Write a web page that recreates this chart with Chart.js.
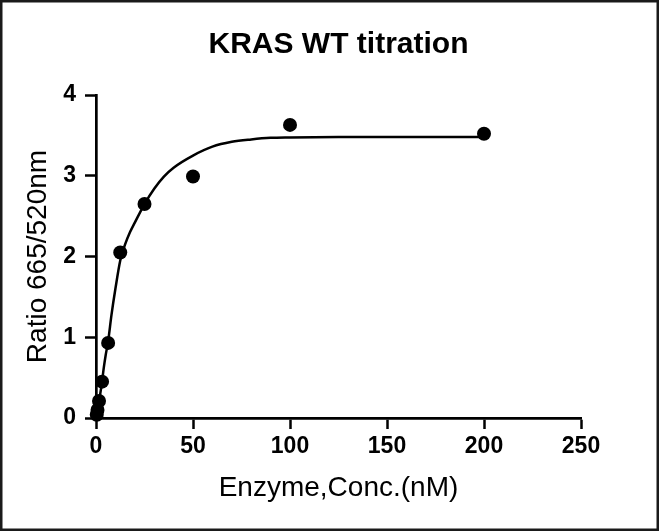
<!DOCTYPE html>
<html>
<head>
<meta charset="utf-8">
<script src="https://cdn.jsdelivr.net/npm/chart.js@4.4.0/dist/chart.umd.min.js"></script>
<style>
  html, body { margin: 0; padding: 0; background: #fff; }
  #wrap { position: relative; width: 659px; height: 531px; }
</style>
</head>
<body>
<div id="wrap"><canvas id="c" width="659" height="531"></canvas></div>
<script>
// ---- data ----
const TITLE = 'KRAS WT titration';
const X_TITLE = 'Enzyme,Conc.(nM)';
const Y_TITLE = 'Ratio 665/520nm';

// measured points
const concentrations = [0.39, 0.78, 1.56, 3.125, 6.25, 12.5, 25, 50, 100, 200];
const ratios         = [0.04, 0.10, 0.21, 0.45, 0.93, 2.05, 2.65, 2.99, 3.63, 3.52];

// fitted curve
const curveX = [0, 1, 2, 3, 4, 5, 6.25, 8, 10, 12.5, 15, 17.5, 20, 25, 30, 35, 40, 50, 60, 70, 80, 90, 100, 125, 150, 200];
const curveY = [0, 0.12, 0.27, 0.43, 0.62, 0.78, 0.95, 1.28, 1.60, 1.95, 2.15, 2.30, 2.42, 2.65, 2.84, 2.99, 3.10, 3.25, 3.36, 3.42, 3.45, 3.47, 3.475, 3.48, 3.48, 3.48];

const xTicks = [0, 50, 100, 150, 200, 250];
const yTicks = [0, 1, 2, 3, 4];

const FONT = "'Liberation Sans', Arial, Helvetica, sans-serif";

const pointData = concentrations.map((x, i) => ({x: x, y: ratios[i]}));
const curveData = curveX.map((x, i) => ({x: x, y: curveY[i]}));

const framePlugin = {
  id: 'frame',
  afterLayout(chart) {
    const t = chart.titleBlock;
    if (t) { t.left = chart.chartArea.left; t.right = chart.chartArea.right; }
  },
  afterDraw(chart) {
    const ctx = chart.ctx;
    ctx.save();
    ctx.strokeStyle = '#1a1a1a';
    ctx.lineWidth = 2.5;
    ctx.strokeRect(1.25, 1.25, chart.width - 2.5, chart.height - 2.5);
    ctx.restore();
  }
};

new Chart(document.getElementById('c'), {
  type: 'scatter',
  data: {
    datasets: [
      {
        label: 'data',
        data: pointData,
        backgroundColor: '#000',
        borderColor: '#000',
        pointRadius: 7,
        pointHoverRadius: 7,
        borderWidth: 0,
        showLine: false,
        clip: false
      },
      {
        label: 'fit',
        data: curveData,
        borderColor: '#000',
        backgroundColor: '#000',
        borderWidth: 2.5,
        pointRadius: 0,
        showLine: true,
        cubicInterpolationMode: 'monotone',
        fill: false,
        clip: false
      }
    ]
  },
  options: {
    responsive: false,
    animation: false,
    devicePixelRatio: 1,
    layout: { padding: { left: 0, right: 78, top: 0, bottom: 0 } },
    plugins: {
      legend: { display: false },
      tooltip: { enabled: false },
      title: {
        display: true,
        text: TITLE,
        color: '#000',
        font: { family: FONT, size: 30, weight: 'bold', lineHeight: 1.2 },
        padding: { top: 27, bottom: 32 }
      }
    },
    scales: {
      x: {
        type: 'linear',
        min: 0,
        max: 250,
        afterFit(scale) { scale.height = 113; },
        afterBuildTicks(scale) { scale.ticks = xTicks.map(v => ({value: v})); },
        ticks: {
          color: '#000',
          padding: 4,
          font: { family: FONT, size: 23, weight: 'bold' },
          maxRotation: 0
        },
        grid: {
          display: true,
          drawOnChartArea: false,
          drawTicks: true,
          tickLength: 11,
          tickWidth: 2.5,
          tickColor: '#000'
        },
        border: { display: true, color: '#000', width: 2.7 },
        title: {
          display: true,
          text: X_TITLE,
          color: '#000',
          font: { family: FONT, size: 28, weight: 'normal', lineHeight: 1.2 },
          padding: { top: 0, bottom: 26 }
        }
      },
      y: {
        type: 'linear',
        min: 0,
        max: 4,
        afterFit(scale) { scale.width = 96; },
        afterBuildTicks(scale) { scale.ticks = yTicks.map(v => ({value: v})); },
        ticks: {
          color: '#000',
          padding: 9,
          font: { family: FONT, size: 23, weight: 'bold' }
        },
        grid: {
          display: true,
          drawOnChartArea: false,
          drawTicks: true,
          tickLength: 11,
          tickWidth: 2.5,
          tickColor: '#000'
        },
        border: { display: true, color: '#000', width: 2.7 },
        title: {
          display: true,
          text: Y_TITLE,
          color: '#000',
          font: { family: FONT, size: 28, weight: 'normal', lineHeight: 1.2 },
          padding: { top: 21, bottom: 0 }
        }
      }
    }
  },
  plugins: [framePlugin]
});
</script>
</body>
</html>
